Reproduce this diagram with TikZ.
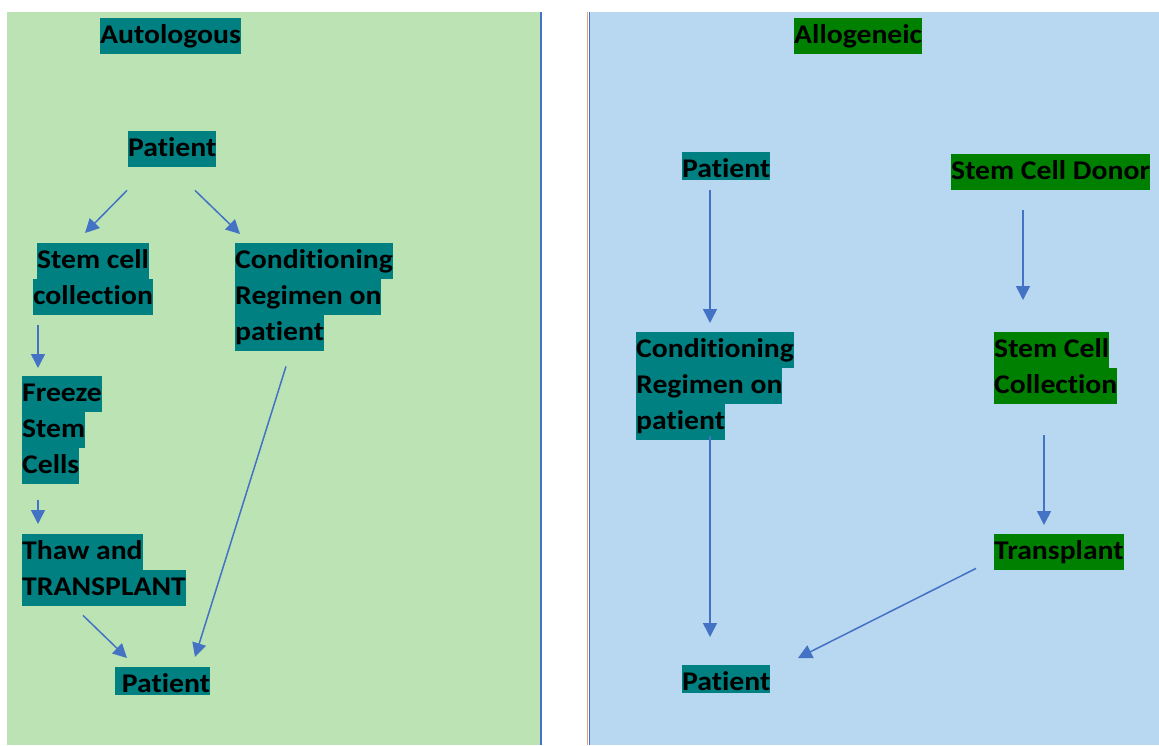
\documentclass[tikz,border=0pt]{standalone}
\usepackage{fontspec}
\setmainfont{Carlito}[FakeStretch=1.1, Ligatures=NoCommon]
\usepackage{xcolor}
\usepackage{tikz}
\usetikzlibrary{arrows.meta}
\usetikzlibrary{calc}

\definecolor{autobg}{RGB}{187,227,180}
\definecolor{allobg}{RGB}{184,215,240}
\definecolor{hlteal}{RGB}{0,128,128}
\definecolor{hlgreen}{RGB}{0,128,0}
\definecolor{arrblue}{RGB}{68,114,196}
\definecolor{edgeorange}{RGB}{232,160,120}

% one highlighted line of text, full height or cut short below
\setlength{\fboxsep}{0pt}
\newcommand{\hl}[2]{\colorbox{#1}{\strut #2}}
\newcommand{\hlcut}[2]{\colorbox{#1}{\rule[-3pt]{0pt}{28pt}#2}}

\begin{document}
\begin{tikzpicture}[x=1pt, y=-1pt,
	lbl/.style={anchor=north west, inner sep=0pt, align=left, text=black,
		font=\fontsize{27}{36}\selectfont\bfseries},
	arr/.style={draw=arrblue, line width=1.5pt, -{Triangle[length=14pt,width=14pt]}}]

	\useasboundingbox (0,0) rectangle (1159,745);

	% the two panels
	\fill[autobg] (7,12) rectangle (541,745);
	\draw[arrblue, line width=1.5pt] (541,12) -- (541,745);
	\fill[allobg] (589,12) rectangle (1159,745);
	\draw[edgeorange, line width=1pt] (587,12) -- (587,745);
	\draw[arrblue, line width=1.5pt] (589.5,12) -- (589.5,745);

	% Autologous
	\node[lbl] (ttla) at (100,18) {\hl{hlteal}{Autologous}};
	\node[lbl] (pa1) at (128,131) {\hl{hlteal}{Patient}};
	\node[lbl, align=center] (sca) at (33,243) {\hl{hlteal}{Stem cell}\\\hl{hlteal}{collection}};
	\node[lbl] (cra) at (235,243) {\hl{hlteal}{Conditioning}\\\hl{hlteal}{Regimen on}\\\hl{hlteal}{patient}};
	\node[lbl] (fza) at (22,376) {\hl{hlteal}{Freeze}\\\hl{hlteal}{Stem}\\\hl{hlteal}{Cells}};
	\node[lbl] (tha) at (22,534) {\hl{hlteal}{Thaw and}\\\hl{hlteal}{TRANSPLANT}};
	\node[lbl] (pa2) at (115,667) {\hlcut{hlteal}{\ Patient}};

	\draw[arr] ([xshift=-1pt,yshift=-23pt]pa1.south west) -- ([xshift=52pt,yshift=10pt]sca.north west);
	\draw[arr] ([xshift=67pt,yshift=-23pt]pa1.south west) -- ([xshift=5pt,yshift=9pt]cra.north west);
	\draw[arr] ([xshift=5pt,yshift=-10pt]sca.south west) -- ([xshift=16pt,yshift=8pt]fza.north west);
	\draw[arr] ([xshift=16pt,yshift=-16pt]fza.south west) -- ([xshift=16pt,yshift=10pt]tha.north west);
	\draw[arr] ([xshift=61pt,yshift=-9pt]tha.south west) -- ([xshift=12pt,yshift=9pt]pa2.north west);
	\draw[arr] ([xshift=51pt,yshift=-15pt]cra.south west) -- ([xshift=80pt,yshift=10pt]pa2.north west);

	% Allogeneic
	\node[lbl] (ttlb) at (794,18) {\hl{hlgreen}{Allogeneic}};
	\node[lbl] (pb1) at (682,152) {\hlcut{hlteal}{Patient}};
	\node[lbl] (dnb) at (951,154) {\hl{hlgreen}{Stem Cell Donor}};
	\node[lbl] (crb) at (636,332) {\hl{hlteal}{Conditioning}\\\hl{hlteal}{Regimen on}\\\hl{hlteal}{patient}};
	\node[lbl] (scb) at (994,332) {\hl{hlgreen}{Stem Cell}\\\hl{hlgreen}{Collection}};
	\node[lbl] (tpb) at (994,534) {\hl{hlgreen}{Transplant}};
	\node[lbl] (pb2) at (682,665) {\hlcut{hlteal}{Patient}};

	\draw[arr] ([xshift=28pt,yshift=-10pt]pb1.south west) -- ([xshift=74pt,yshift=9pt]crb.north west);
	\draw[arr] ([xshift=72pt,yshift=-20pt]dnb.south west) -- ([xshift=29pt,yshift=32pt]scb.north west);
	\draw[arr] ([xshift=74pt,yshift=4pt]crb.south west) -- ([xshift=28pt,yshift=28pt]pb2.north west);
	\draw[arr] ([xshift=50pt,yshift=-31pt]scb.south west) -- ([xshift=50pt,yshift=9pt]tpb.north west);
	\draw[arr] ([xshift=-18pt,yshift=2pt]tpb.south west) -- ([xshift=116pt,yshift=7pt]pb2.north west);

\end{tikzpicture}
\end{document}
